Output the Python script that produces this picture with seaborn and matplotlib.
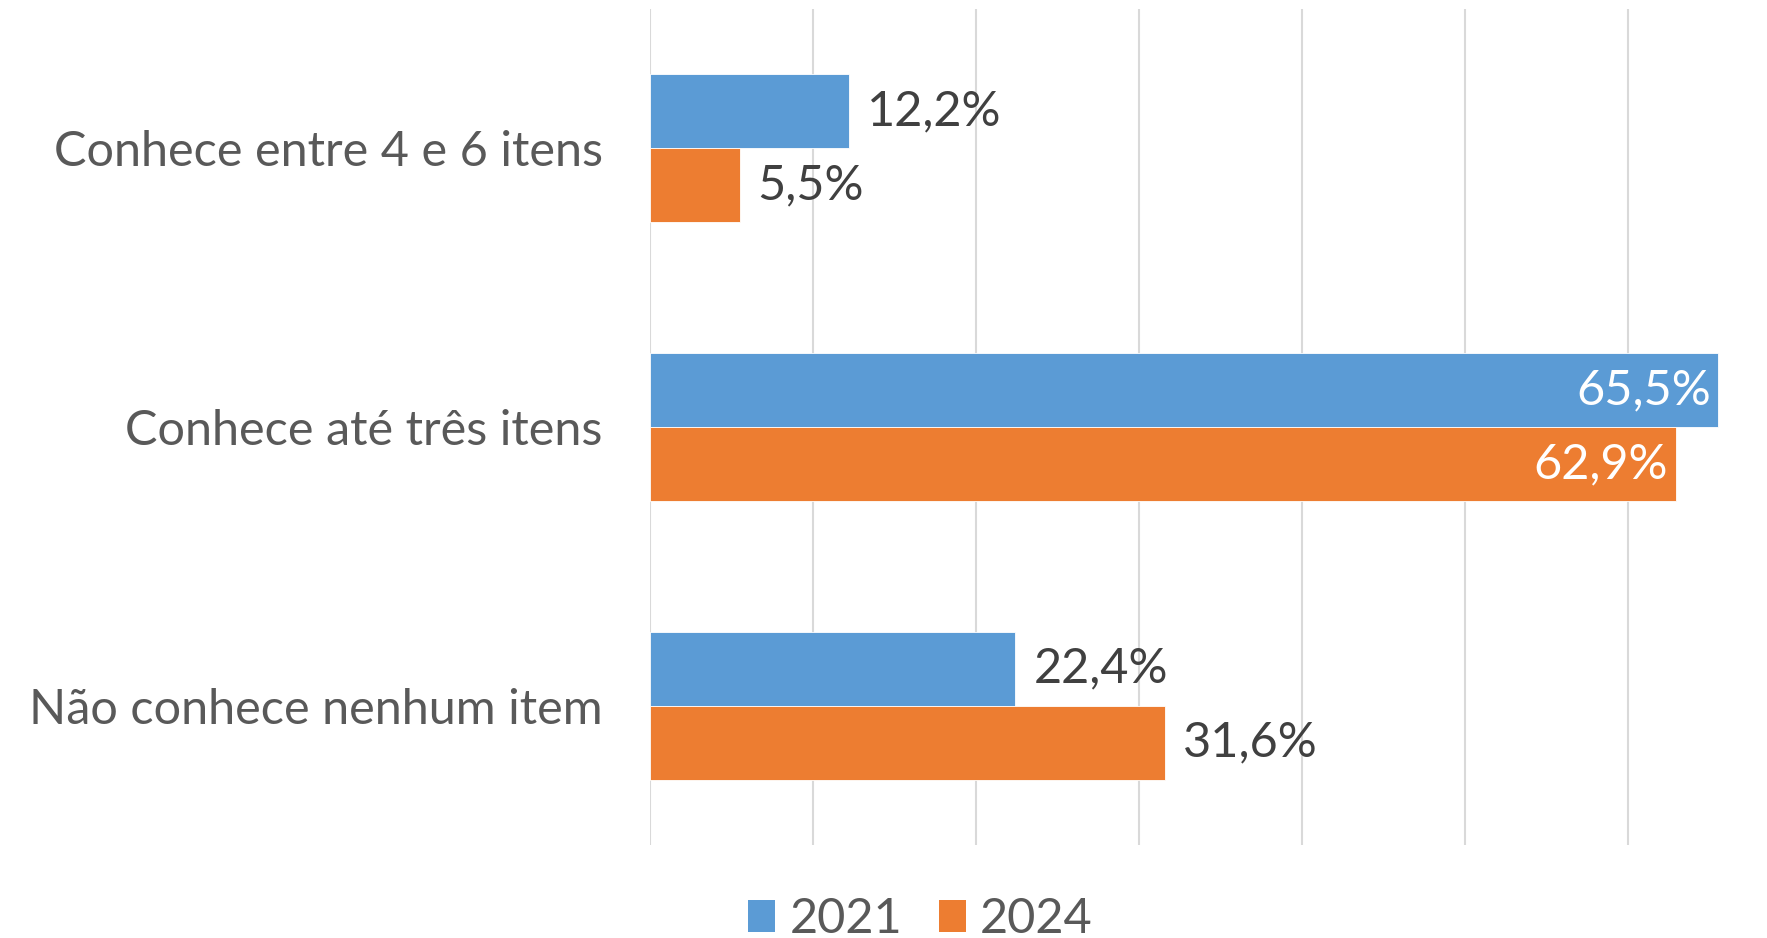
import matplotlib
matplotlib.use("Agg")
import matplotlib.pyplot as plt
import seaborn as sns
import pandas as pd
from matplotlib.patches import Patch

categories = ["Conhece entre 4 e 6 itens", "Conhece até três itens", "Não conhece nenhum item"]
years = ["2021", "2024"]
values_2021 = [12.2, 65.5, 22.4]
values_2024 = [5.5, 62.9, 31.6]
colors = ["#5B9BD5", "#ED7D31"]

df = pd.DataFrame({
    "categoria": categories * 2,
    "ano": [years[0]] * 3 + [years[1]] * 3,
    "valor": values_2021 + values_2024,
})

sns.set_theme(style="white")
plt.rcParams["font.family"] = ["Lato", "DejaVu Sans"]

FS = 35
fig = plt.figure(figsize=(17.67, 9.38), dpi=100)
ax = fig.add_axes([0.3679, 0.0991, 0.6321, 0.8913])

sns.barplot(data=df, y="categoria", x="valor", hue="ano", order=categories,
            hue_order=years, palette=colors, orient="h", width=0.53, saturation=1,
            edgecolor="white", linewidth=0.6, ax=ax, legend=False)

ax.set_xlim(0, 68.5)
ax.set_ylim(2.5, -0.5)
ax.set_xticks([0, 10, 20, 30, 40, 50, 60])
ax.xaxis.grid(True, color="#D9D9D9", linewidth=1.5)
ax.set_axisbelow(True)
ax.tick_params(axis="x", length=0, labelbottom=False)
ax.tick_params(axis="y", length=0, pad=34, labelsize=FS, labelcolor="#595959")
ax.set_xlabel("")
ax.set_ylabel("")
for s in ax.spines.values():
    s.set_visible(False)

for i, cont in enumerate(ax.containers):
    for bar, v in zip(cont, [values_2021, values_2024][i]):
        txt = f"{v:.1f}%".replace(".", ",")
        y = bar.get_y() + bar.get_height() / 2
        if v > 50:
            ax.text(v - 0.45, y, txt, ha="right", va="center", fontsize=FS, color="white")
        else:
            ax.text(v + 1.1, y, txt, ha="left", va="center", fontsize=FS, color="#404040")

handles = [Patch(facecolor=c, edgecolor="none") for c in colors]
fig.legend(handles, years, loc="center", bbox_to_anchor=(0.521, 0.02), ncol=2,
           frameon=False, fontsize=FS, labelcolor="#595959", handlelength=0.55,
           handleheight=0.62, handletextpad=0.3, columnspacing=0.75)

fig.savefig("out.png", dpi=100)
